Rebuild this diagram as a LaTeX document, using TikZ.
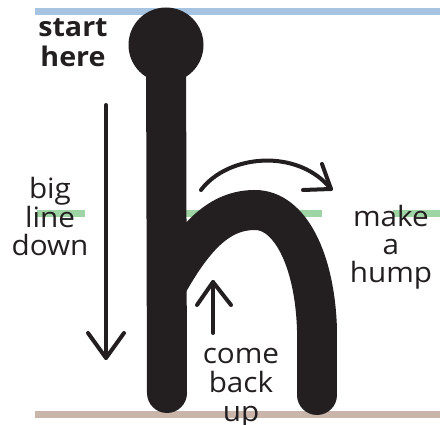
\documentclass[tikz,border=0pt]{standalone}
\usepackage{fontspec}
\setmainfont{Open Sans}[FakeStretch=1.06]
\definecolor{ink}{HTML}{231F20}
\definecolor{guideblue}{HTML}{A6C3E1}
\definecolor{guidegreen}{HTML}{9FD5A4}
\definecolor{guidebrown}{HTML}{C9B5AA}
\tikzset{
  guide/.style={line width=7pt},
  letterstroke/.style={line width=40pt, line cap=round, draw=ink},
  arrowline/.style={line width=4pt, line cap=round, line join=round, draw=ink},
  lbl/.style={text=ink, align=center, inner sep=0pt, anchor=base},
}
\begin{document}
\begin{tikzpicture}[x=1pt,y=-1pt]
\useasboundingbox (0,0) rectangle (440,425);
% guide lines
\coordinate (b1) at (35,12);   \coordinate (b2) at (440,12);
\coordinate (g1) at (37,213.5); \coordinate (g2) at (85,213.5);
\coordinate (g3) at (167,213.5); \coordinate (g4) at (322,213.5);
\coordinate (g5) at (393,213.5); \coordinate (g6) at (440,213.5);
\coordinate (r1) at (35,415);  \coordinate (r2) at (440,415);
\draw[guide, guideblue] (b1) -- (b2);
\draw[guide, guidegreen] (g1) -- (g2) (g3) -- (g4) (g5) -- (g6);
\draw[guide, guidebrown] (r1) -- (r2);
% the letter h
\coordinate (top) at (166,45);
\coordinate (stemend) at (167,393);
\coordinate (humpstart) at (167,285);
\coordinate (peak) at (255,210);
\coordinate (legtop) at (317,330);
\coordinate (legend) at (317,395);
\fill[ink] (top) circle[radius=37.5];
\draw[letterstroke] (top) -- (stemend);
\draw[letterstroke, line cap=butt] (humpstart) .. controls (195,235) and (220,210) .. (peak)
   .. controls (290,210) and (315,260) .. (legtop);
\draw[letterstroke] (legtop) -- (legend);
% arrows
\coordinate (a1s) at (106,105); \coordinate (a1t) at (106,358);
\draw[arrowline] (a1s) -- (a1t);
\draw[arrowline] (88,333) -- (a1t) -- (124,333);
\coordinate (a2s) at (213,333); \coordinate (a2t) at (213,282);
\draw[arrowline] (a2s) -- (a2t);
\draw[arrowline] (197,305) -- (a2t) -- (231,305);
\coordinate (a3s) at (201,190); \coordinate (a3t) at (331,189);
\draw[arrowline] (a3s) .. controls (228,154) and (298,148) .. (a3t);
\draw[arrowline] (303,190) -- (a3t) -- (322,164);
% labels
\node[lbl, font=\bfseries\fontsize{27}{30}\selectfont] (start) at (73,67) {start\\here};
\node[lbl, font=\fontsize{28}{29}\selectfont] (big) at (50,256) {big\\line\\down};
\node[lbl, font=\fontsize{28}{27.8}\selectfont] (make) at (391,282.3) {make\\a\\hump};
\node[lbl, font=\fontsize{28}{29}\selectfont] (come) at (241,421) {come\\back\\up};
\end{tikzpicture}
\end{document}
